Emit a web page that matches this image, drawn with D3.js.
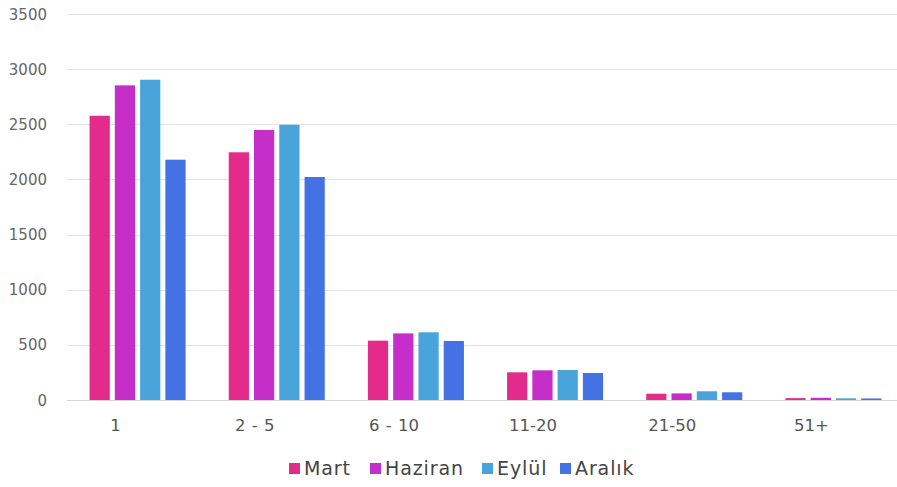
<!DOCTYPE html>
<html>
<head>
<meta charset="utf-8">
<script src="https://cdn.jsdelivr.net/npm/d3@7"></script>
<style>
  body { margin: 0; background: #fff; }
  text { font-family: "DejaVu Sans", "Noto Sans", sans-serif; }
</style>
</head>
<body>
<div class="chart"></div>
<script>
var categories = ["1", "2 - 5", "6 - 10", "11-20", "21-50", "51+"];
var seriesNames = ["Mart", "Haziran", "Eylül", "Aralık"];
var mart =    [2577, 2246, 538, 251, 57, 17];
var haziran = [2853, 2448, 604, 269, 60, 20];
var eylul =   [2904, 2496, 614, 272, 79, 15];
var aralik =  [2179, 2022, 535, 245, 70, 14];
var yTicks = [0, 500, 1000, 1500, 2000, 2500, 3000, 3500];
var colors = ["#e22b8b", "#c52ec9", "#4aa4dc", "#4471e3"];

var width = 897;
var height = 487;
var series = [mart, haziran, eylul, aralik];

var svg = d3.select(".chart")
    .append("svg")
    .attr("width", width)
    .attr("height", height);

var y = d3.scaleLinear().domain([0, 3500]).range([400, 14]);
var x0 = d3.scaleBand().domain(categories).range([68, 903])
    .paddingInner(0.31).paddingOuter(0.155);
var x1 = d3.scaleBand().domain(seriesNames).range([0, x0.bandwidth()])
    .paddingInner(0.2);

// grid lines
svg.append("g")
    .selectAll("line")
    .data(yTicks)
    .enter()
    .append("line")
    .attr("x1", 67)
    .attr("x2", width)
    .attr("y1", function (d) { return Math.round(y(d)) + 0.5; })
    .attr("y2", function (d) { return Math.round(y(d)) + 0.5; })
    .attr("stroke", function (d) { return d === 0 ? "#d6d6d6" : "#e3e3e3"; })
    .attr("stroke-width", 1.2);

// y labels
svg.append("g")
    .selectAll("text")
    .data(yTicks)
    .enter()
    .append("text")
    .attr("x", 47)
    .attr("y", function (d) { return y(d) + 5.5; })
    .attr("text-anchor", "end")
    .attr("font-size", 15)
    .attr("fill", "#666")
    .text(function (d) { return d; });

// bars
var groups = svg.append("g")
    .selectAll("g")
    .data(categories)
    .enter()
    .append("g")
    .attr("transform", function (d) { return "translate(" + x0(d) + ",0)"; });

groups.selectAll("rect")
    .data(function (d, i) {
        return seriesNames.map(function (s, j) {
            return { name: s, value: series[j][i], color: colors[j] };
        });
    })
    .enter()
    .append("rect")
    .attr("x", function (d) { return x1(d.name); })
    .attr("y", function (d) { return y(d.value); })
    .attr("width", x1.bandwidth())
    .attr("height", function (d) { return y(0) - y(d.value); })
    .attr("fill", function (d) { return d.color; });

// x labels
svg.append("g")
    .selectAll("text")
    .data(categories)
    .enter()
    .append("text")
    .attr("x", function (d) { return x0(d) + x0.bandwidth() / 2 - 22; })
    .attr("y", 431)
    .attr("text-anchor", "middle")
    .attr("font-size", 16.5)
    .attr("word-spacing", 1)
    .attr("fill", "#555")
    .text(function (d) { return d; });

// legend
var legendX = [289, 370, 482, 560];
var legend = svg.append("g")
    .selectAll("g")
    .data(seriesNames)
    .enter()
    .append("g")
    .attr("transform", function (d, i) { return "translate(" + legendX[i] + ",463)"; });
legend.append("rect")
    .attr("width", 11)
    .attr("height", 11)
    .attr("fill", function (d, i) { return colors[i]; });
legend.append("text")
    .attr("x", 15)
    .attr("y", 12)
    .attr("font-size", 19)
    .attr("letter-spacing", 0.9)
    .attr("fill", "#444")
    .text(function (d) { return d; });
</script>
</body>
</html>
